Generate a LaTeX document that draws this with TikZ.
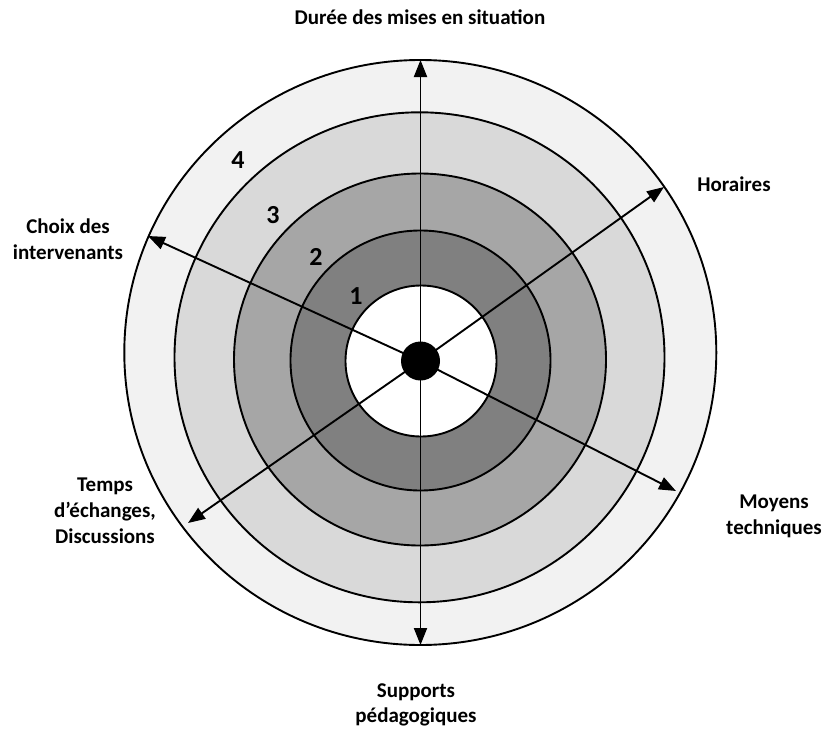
\documentclass[tikz,border=0pt]{standalone}
\usepackage{fontspec}
\setmainfont{Carlito}
\usetikzlibrary{arrows.meta}
\definecolor{ringE}{HTML}{F2F2F2}
\definecolor{ringD}{HTML}{D9D9D9}
\definecolor{ringC}{HTML}{A6A6A6}
\definecolor{ringB}{HTML}{808080}
\begin{document}
\begin{tikzpicture}[x=1pt,y=-1pt,
  ring/.style={draw=black,line width=1.9pt},
  axis/.style={line width=1.9pt,-{Triangle[length=17pt,width=13pt]}},
  lbl/.style={font=\fontsize{21}{25}\selectfont\bfseries,inner sep=0pt,anchor=base},
  num/.style={font=\fontsize{26}{30}\selectfont\bfseries,inner sep=0pt}]
\useasboundingbox (0,0) rectangle (835,728);
% rings
\filldraw[ring,fill=ringE] (420.3,352.5) ellipse [x radius=296,y radius=292.5];
\filldraw[ring,fill=ringD] (419.5,357.3) circle [radius=245];
\filldraw[ring,fill=ringC] (420,359.5) circle [radius=186];
\filldraw[ring,fill=ringB] (420.5,360.5) circle [radius=130];
\filldraw[ring,fill=white] (421,361) circle [radius=75.5];
% ring numbers
\node[num] (n4) at (238,160) {4};
\node[num] (n3) at (273,215) {3};
\node[num] (n2) at (316,257) {2};
\node[num] (n1) at (356,296) {1};
% axes
\coordinate (o) at (420.5,361);
\coordinate (tU) at (420.5,60);
\coordinate (tD) at (420.5,645);
\coordinate (tH) at (664,187);
\coordinate (tM) at (676,491);
\coordinate (tC) at (148,236);
\coordinate (tT) at (188,523);
\foreach \t in {tU,tD,tH,tM,tC,tT} \draw[axis] (o) -- (\t);
\node[circle,fill=black,minimum size=39pt,inner sep=0pt] (c) at (o) {};
% labels
\node[lbl] (title) at (420,24.5) {Durée des mises en situation};
\node[lbl] (hor) at (734,191.5) {Horaires};
\node[lbl] (ch1) at (68,233) {Choix des};
\node[lbl] (ch2) at (68,259) {intervenants};
\node[lbl] (te1) at (105,491) {Temps};
\node[lbl] (te2) at (105,517) {d’échanges,};
\node[lbl] (te3) at (105,543) {Discussions};
\node[lbl] (mo1) at (774,508.5) {Moyens};
\node[lbl] (mo2) at (774,534.5) {techniques};
\node[lbl] (su1) at (416,697) {Supports};
\node[lbl] (su2) at (416,722) {pédagogiques};
\end{tikzpicture}
\end{document}
